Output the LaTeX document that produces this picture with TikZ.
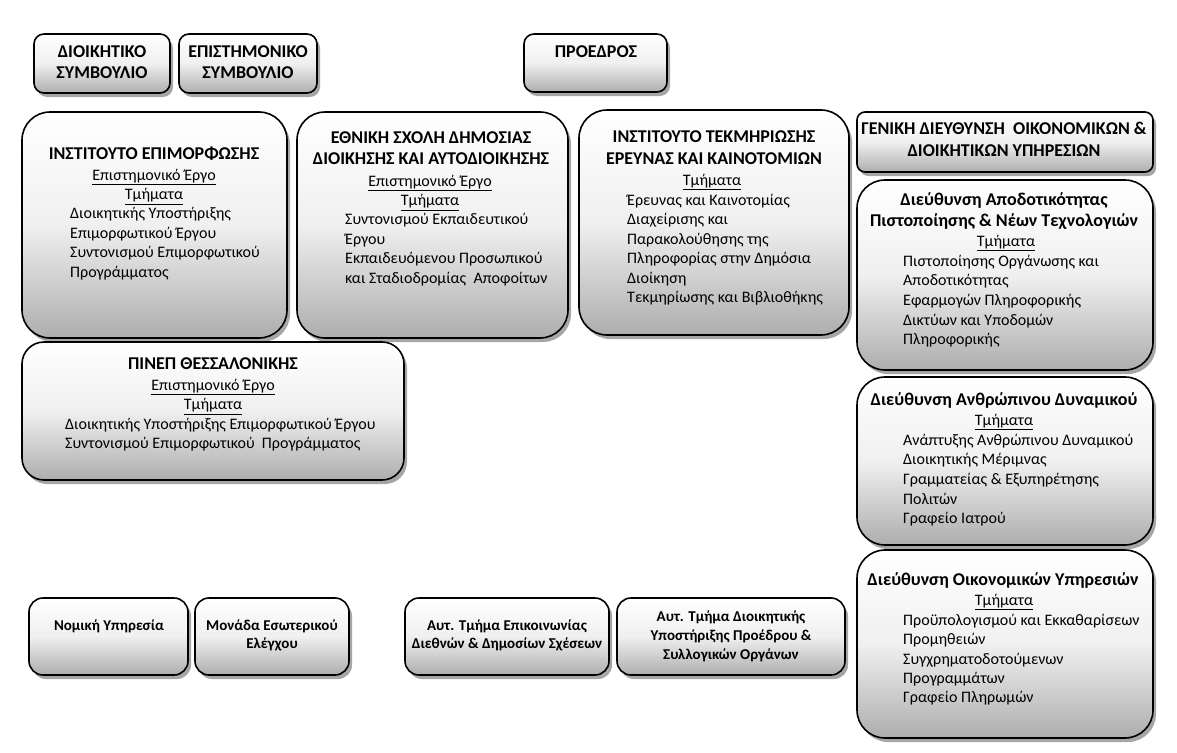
\documentclass[tikz,border=0pt]{standalone}
\usepackage{fontspec}
\setmainfont{Carlito}
\usetikzlibrary{shadows}
\tikzset{
 obox/.style={draw=black, line width=1.6pt, top color=white, bottom color=black!32, middle color=black!6,
   drop shadow={shadow xshift=3pt, shadow yshift=-4pt, fill=black, opacity=0.35}, inner sep=0pt},
 top/.style={font=\fontsize{18}{21}\selectfont\bfseries, anchor=mid, inner sep=0pt},
 ttl/.style={font=\fontsize{18}{21}\selectfont\bfseries, anchor=mid, inner sep=0pt},
 sub/.style={font=\fontsize{16}{19}\selectfont, anchor=mid, inner sep=0pt},
 itm/.style={font=\fontsize{16}{19}\selectfont, anchor=mid west, inner sep=0pt},
 sml/.style={font=\fontsize{15}{18}\selectfont\bfseries, anchor=mid, inner sep=0pt},
}
\newcommand\obox[6]{\node[obox, rounded corners=#6, minimum width={#4-#2}, minimum height={#5-#3}] (#1) at ({(#2+#4)/2},{(#3+#5)/2}) {};}
\newcommand\glines[6]{\foreach \t [count=\i] in {#6} \node[#2] (#1\i) at (#3, {#4+(\i-1)*#5}) {\t};}
\begin{document}
\begin{tikzpicture}[x=1pt,y=-1pt]
\fill[white] (0,0) rectangle (1177,752);
\useasboundingbox (0,0) rectangle (1177,752);
% top
\obox{dsb}{34}{34}{170}{93}{10}
\glines{dsbt}{top}{102}{55}{21}{ΔΙΟΙΚΗΤΙΚΟ,ΣΥΜΒΟΥΛΙΟ}
\obox{esb}{179}{34}{317}{93}{10}
\glines{esbt}{top}{248}{55}{21}{ΕΠΙΣΤΗΜΟΝΙΚΟ,ΣΥΜΒΟΥΛΙΟ}
\obox{pr}{524}{34}{667}{92}{10}
\node[ttl] (prt) at (596,55) {ΠΡΟΕΔΡΟΣ};
% box 1
\obox{ie}{22}{112}{287}{338}{28}
\node[ttl] (iet) at (154,157) {ΙΝΣΤΙΤΟΥΤΟ ΕΠΙΜΟΡΦΩΣΗΣ};
\glines{ies}{sub}{154}{178}{19.5}{\underline{Επιστημονικό Έργο},\underline{Τμήματα}}
\glines{iei}{itm}{70}{216}{19.8}{Διοικητικής Υποστήριξης,Επιμορφωτικού Έργου,Συντονισμού Επιμορφωτικού,Προγράμματος}
% box 2
\obox{es}{297}{112}{568}{338}{28}
\glines{est}{ttl}{431}{141}{21}{ΕΘΝΙΚΗ ΣΧΟΛΗ ΔΗΜΟΣΙΑΣ,ΔΙΟΙΚΗΣΗΣ ΚΑΙ ΑΥΤΟΔΙΟΙΚΗΣΗΣ}
\glines{ess}{sub}{430}{184}{19.5}{\underline{Επιστημονικό Έργο},\underline{Τμήματα}}
\glines{esi}{itm}{345}{222}{19.7}{Συντονισμού Εκπαιδευτικού,Έργου,Εκπαιδευόμενου Προσωπικού,και Σταδιοδρομίας~~Αποφοίτων}
% box 3
\obox{it}{579}{110}{849}{335}{28}
\glines{itt}{ttl}{714}{140}{22}{ΙΝΣΤΙΤΟΥΤΟ ΤΕΚΜΗΡΙΩΣΗΣ,ΕΡΕΥΝΑΣ ΚΑΙ ΚΑΙΝΟΤΟΜΙΩΝ}
\node[sub] (its) at (712,183) {\underline{Τμήματα}};
\glines{iti}{itm}{627}{203}{19.5}{Έρευνας και Καινοτομίας,Διαχείρισης και,Παρακολούθησης της,Πληροφορίας στην Δημόσια,Διοίκηση,Τεκμηρίωσης και Βιβλιοθήκης}
% right column
\obox{gd}{857}{112}{1153}{172}{8}
\glines{gdt}{ttl}{1004}{132}{22}{ΓΕΝΙΚΗ ΔΙΕΥΘΥΝΣΗ~ ΟΙΚΟΝΟΜΙΚΩΝ \&,ΔΙΟΙΚΗΤΙΚΩΝ ΥΠΗΡΕΣΙΩΝ}
\obox{da}{857}{180}{1153}{370}{28}
\glines{dat}{ttl}{1004}{203}{21}{Διεύθυνση Αποδοτικότητας,Πιστοποίησης \& Νέων Τεχνολογιών}
\node[sub] (das) at (1006,244) {\underline{Τμήματα}};
\glines{dai}{itm}{903}{264}{19.6}{Πιστοποίησης Οργάνωσης και,Αποδοτικότητας,Εφαρμογών Πληροφορικής,Δικτύων και Υποδομών,Πληροφορικής}
\obox{dan}{857}{377}{1153}{545}{28}
\node[ttl] (dant) at (1004,403) {Διεύθυνση Ανθρώπινου Δυναμικού};
\node[sub] (dans) at (1004,423) {\underline{Τμήματα}};
\glines{dani}{itm}{903}{443}{19.6}{Ανάπτυξης Ανθρώπινου Δυναμικού,Διοικητικής Μέριμνας,Γραμματείας \& Εξυπηρέτησης,Πολιτών,Γραφείο Ιατρού}
\obox{do}{857}{550}{1153}{738}{28}
\node[ttl] (dot) at (1003,583) {Διεύθυνση Οικονομικών Υπηρεσιών};
\node[sub] (dos) at (1004,603) {\underline{Τμήματα}};
\glines{doi}{itm}{903}{623}{19.4}{Προϋπολογισμού και Εκκαθαρίσεων,Προμηθειών,Συγχρηματοδοτούμενων,Προγραμμάτων,Γραφείο Πληρωμών}
% ΠΙΝΕΠ
\obox{pn}{22}{342}{404}{480}{22}
\node[ttl] (pnt) at (213,367) {ΠΙΝΕΠ ΘΕΣΣΑΛΟΝΙΚΗΣ};
\glines{pns}{sub}{213}{388}{19.5}{\underline{Επιστημονικό Έργο},\underline{Τμήματα}}
\glines{pni}{itm}{65}{427}{19.5}{Διοικητικής Υποστήριξης Επιμορφωτικού Έργου,Συντονισμού Επιμορφωτικού~~Προγράμματος}
% bottom row
\obox{nu}{29}{598}{188}{675}{14}
\node[sml] (nut) at (109,628) {Νομική Υπηρεσία};
\obox{me}{195}{598}{349}{675}{14}
\glines{met}{sml}{272}{628}{18.5}{Μονάδα Εσωτερικού,Ελέγχου}
\obox{ae}{405}{598}{609}{675}{14}
\glines{aet}{sml}{507}{628}{18.5}{Αυτ. Τμήμα Επικοινωνίας,Διεθνών \& Δημοσίων Σχέσεων}
\obox{ad}{617}{598}{845}{675}{14}
\glines{adt}{sml}{731}{619}{19}{Αυτ. Τμήμα Διοικητικής,Υποστήριξης Προέδρου \&,Συλλογικών Οργάνων}
\end{tikzpicture}
\end{document}
